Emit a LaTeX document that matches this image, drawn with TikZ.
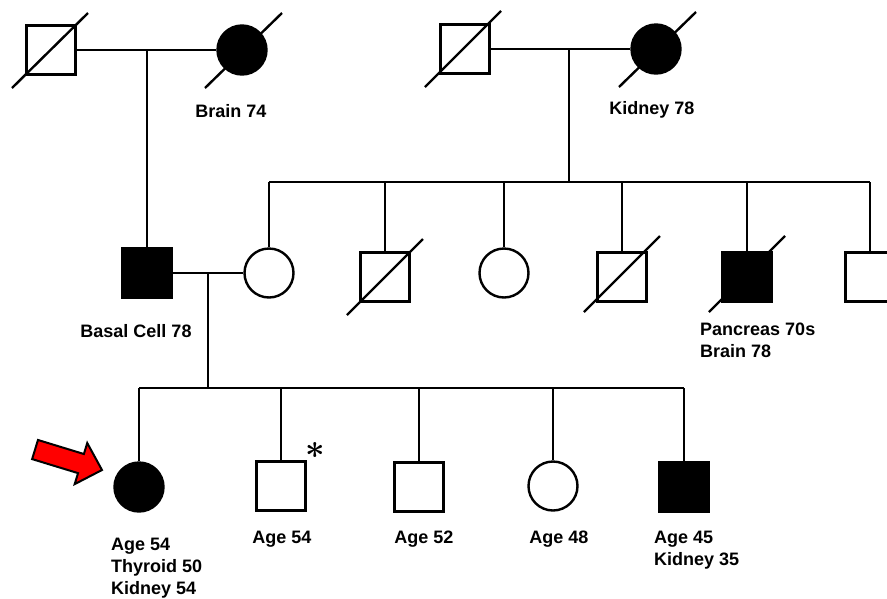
\documentclass[tikz,border=0pt]{standalone}
\usepackage{fontspec}
\setmainfont{Liberation Sans}
\usetikzlibrary{calc}
\tikzset{
    my-male/.style={
        draw, shape=rectangle, minimum size=49pt, inner sep=0pt
    },
    my-female/.style={
        draw, shape=circle, minimum size=49pt, inner sep=0pt
    },
    my-affected/.style={
        fill=black
    },
    my-slash/.style={
        line cap=butt
    },
    my-label/.style={
        font=\fontsize{18}{22}\selectfont\bfseries, inner sep=0pt, align=left
    },
    my-pointer/.style={
        fill=red, draw=black, line width=2pt, line join=miter
    },
}

\begin{document}
\begin{tikzpicture}[x=1pt, y=-1pt, line width=2.4pt]

        \useasboundingbox (0,0) rectangle (887,598);

        % GENERATION I - FATHER'S SIDE
        \node[my-male]                (GF1)    at (51,50)   {};
        \node[my-female, my-affected] (GM1)    at (242,50)  {};
        \node[my-label, anchor=north] (GM1TXT) at (231,103) {Brain 74};
        \draw (GF1.east) -- (GM1.west);
        \draw[my-slash] ($(GF1) + (-39, 38)$) -- ($(GF1) + (37, -37)$);
        \draw[my-slash] ($(GM1) + (-37, 38)$) -- ($(GM1) + (40, -37)$);

        % GENERATION I - MOTHER'S SIDE
        \node[my-male]                (GF2)    at (465,49)  {};
        \node[my-female, my-affected] (GM2)    at (656,49)  {};
        \node[my-label, anchor=north] (GM2TXT) at (652,100) {Kidney 78};
        \draw (GF2.east) -- (GM2.west);
        \draw[my-slash] ($(GF2) + (-40, 38)$) -- ($(GF2) + (36, -38)$);
        \draw[my-slash] ($(GM2) + (-37, 38)$) -- ($(GM2) + (40, -37)$);

        % GENERATION II - PARENTS
        \node[my-male, my-affected]   (BASAL)    at (147,273) {};
        \node[my-label, anchor=north] (BASALTXT) at (136,323) {Basal Cell 78};
        \node[my-female]              (MOTHER)   at (269,273) {};

        % GENERATION II - MOTHER'S SIBLINGS
        \node[my-male]                (U1) at (385,277) {};
        \node[my-female]              (A2) at (504,273) {};
        \node[my-male]                (U3) at (622,277) {};
        \node[my-male, my-affected]   (U4) at (747,277) {};
        \node[my-male]                (U5) at (870,277) {};
        \node[my-label, anchor=north west] (U4TXT) at (699,322) {Pancreas 70s\\Brain 78};
        \draw[my-slash] ($(U1) + (-38, 38)$) -- ($(U1) + (38, -38)$);
        \draw[my-slash] ($(U3) + (-38, 35)$) -- ($(U3) + (38, -41)$);
        \draw[my-slash] ($(U4) + (-38, 35)$) -- ($(U4) + (38, -41)$);

        % GENERATION I TO II CONNECTIONS
        \coordinate (CPL1) at (BASAL |- GF1);
        \coordinate (SIB2) at (569,182);
        \draw (CPL1) -- (BASAL.north);
        \draw (SIB2 |- GM2) -- (SIB2);
        \draw (MOTHER |- SIB2) -- (U5 |- SIB2);
        \draw (MOTHER |- SIB2) -- (MOTHER.north);
        \draw (U1 |- SIB2)     -- (U1.north);
        \draw (A2 |- SIB2)     -- (A2.north);
        \draw (U3 |- SIB2)     -- (U3.north);
        \draw (U4 |- SIB2)     -- (U4.north);
        \draw (U5 |- SIB2)     -- (U5.north);

        % GENERATION III - CHILDREN
        \node[my-female, my-affected] (PROBAND) at (139,487) {};
        \node[my-male]                (S1)      at (281,486) {};
        \node[my-male]                (S2)      at (419,487) {};
        \node[my-female]              (S3)      at (553,486) {};
        \node[my-male, my-affected]   (S4)      at (684,487) {};
        \node[inner sep=0pt, scale=3.4, font=\boldmath] (ASTX) at (315,450) {$\ast$};

        % GENERATION III - LABELS
        \node[my-label, anchor=north west] (PROBANDTXT) at (110,537) {Age 54\\Thyroid 50\\Kidney 54};
        \node[my-label, anchor=north]      (S1TXT)      at (282,530) {Age 54};
        \node[my-label, anchor=north]      (S2TXT)      at (424,530) {Age 52};
        \node[my-label, anchor=north]      (S3TXT)      at (559,530) {Age 48};
        \node[my-label, anchor=north west] (S4TXT)      at (653,530) {Age 45\\Kidney 35};

        % GENERATION II TO III CONNECTIONS
        \draw (BASAL.east) -- (MOTHER.west);
        \coordinate (CPL2) at (208,273);
        \coordinate (SIB3) at (208,388);
        \draw (CPL2) -- (SIB3);
        \draw (PROBAND |- SIB3) -- (S4 |- SIB3);
        \draw (PROBAND |- SIB3) -- (PROBAND.north);
        \draw (S1 |- SIB3)      -- (S1.north);
        \draw (S2 |- SIB3)      -- (S2.north);
        \draw (S3 |- SIB3)      -- (S3.north);
        \draw (S4 |- SIB3)      -- (S4.north);

        % PROBAND ARROW
        \draw[my-pointer, shift={(102,470)}, rotate=-17]
            (0,0) -- (-22,21.5) -- (-22,10) -- (-70,10) -- (-70,-10) -- (-22,-10) -- (-22,-21.5) -- cycle;

    \end{tikzpicture}
\end{document}
